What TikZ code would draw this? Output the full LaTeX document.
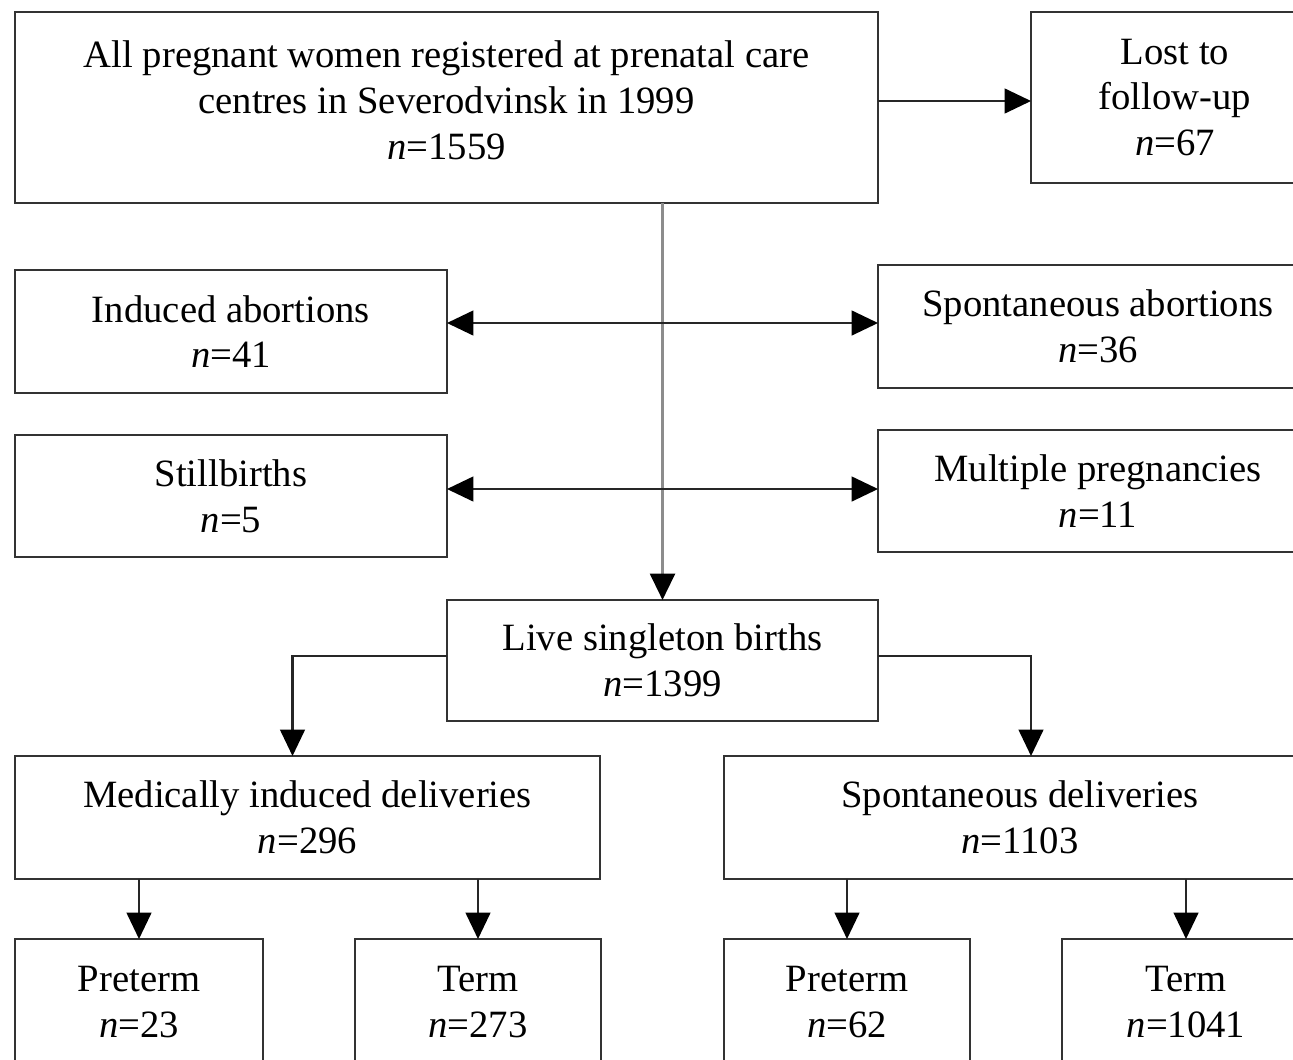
\documentclass[tikz,border=0pt]{standalone}
\usepackage{fontspec}
\setmainfont{Liberation Serif}
\usetikzlibrary{arrows.meta}

\begin{document}
\begin{tikzpicture}[x=0.02cm,y=-0.02cm,
    box/.style={draw=black!80,line width=1.6pt,inner sep=0pt,outer sep=0pt,
        align=center,font=\fontsize{22}{26}\selectfont},
    conn/.style={draw=black!85,line width=1.4pt},
    tip/.style={-{Triangle[length=15pt,width=14pt,black]}},
    dtip/.style={{Triangle[length=15pt,width=14pt,black]}-{Triangle[length=15pt,width=14pt,black]}}]
        % 画布大小（右侧与底部的框被截断）
        \useasboundingbox (0,0) rectangle (1293,1059);
        \clip (0,0) rectangle (1293,1059);

        % 第一层
        \node[box,minimum width=17.26cm,minimum height=3.82cm] (all) at (446.5,107.5)
            {All pregnant women registered at prenatal care\\centres in Severodvinsk in 1999\\\textit{n}=1559\rule[-0.3cm]{0pt}{0pt}};
        \node[box,minimum width=5.76cm,minimum height=3.42cm] (lost) at (1175,97.5)
            {Lost to\\follow-up\\\textit{n}=67};

        % 排除的两组
        \node[box,minimum width=8.64cm,minimum height=2.46cm] (indab) at (231,331.5)
            {Induced abortions\\\textit{n}=41};
        \node[box,minimum width=8.8cm,minimum height=2.46cm] (spab) at (1098,326.5)
            {Spontaneous abortions\\\textit{n}=36};
        \node[box,minimum width=8.64cm,minimum height=2.44cm] (still) at (231,496)
            {Stillbirths\\\textit{n}=5};
        \node[box,minimum width=8.8cm,minimum height=2.44cm] (multi) at (1098,491)
            {Multiple pregnancies\\\textit{n}=11};

        % 活产
        \node[box,minimum width=8.62cm,minimum height=2.42cm] (live) at (662.5,660.5)
            {Live singleton births\\\textit{n}=1399};

        % 分娩方式
        \node[box,minimum width=11.7cm,minimum height=2.46cm] (medind) at (307.5,817.5)
            {Medically induced deliveries\\\textit{n}=296};
        \node[box,minimum width=11.84cm,minimum height=2.46cm] (spdel) at (1020,817.5)
            {Spontaneous deliveries\\\textit{n}=1103};

        % 最底层
        \node[box,minimum width=4.96cm,minimum height=2.52cm] (pre1) at (139,1002)
            {Preterm\\\textit{n}=23};
        \node[box,minimum width=4.92cm,minimum height=2.52cm] (term1) at (478,1002)
            {Term\\\textit{n}=273};
        \node[box,minimum width=4.92cm,minimum height=2.52cm] (pre2) at (847,1002)
            {Preterm\\\textit{n}=62};
        \node[box,minimum width=4.96cm,minimum height=2.52cm] (term2) at (1186,1002)
            {Term\\\textit{n}=1041};

        % 连线
        \draw[conn,tip] ([yshift=-0.07cm]all.east |- lost.west) -- ([yshift=-0.07cm]lost.west);
        \draw[conn,tip,draw=black!45,line width=2pt] (live.north |- all.south) -- (live.north);
        \draw[conn,dtip] ([yshift=0.07cm]indab.east |- spab.west) -- ([yshift=0.07cm]spab.west);
        \draw[conn,dtip] ([yshift=0.04cm]still.east |- multi.west) -- ([yshift=0.04cm]multi.west);

        \draw[conn,tip] ([yshift=0.09cm]live.west) -| ([xshift=-0.3cm]medind.north);
        \draw[conn,tip] ([yshift=0.09cm]live.east) -| ([xshift=0.22cm]spdel.north);

        \draw[conn,tip] (pre1.north |- medind.south) -- (pre1.north);
        \draw[conn,tip] (term1.north |- medind.south) -- (term1.north);
        \draw[conn,tip] (pre2.north |- spdel.south) -- (pre2.north);
        \draw[conn,tip] (term2.north |- spdel.south) -- (term2.north);
    \end{tikzpicture}
\end{document}
